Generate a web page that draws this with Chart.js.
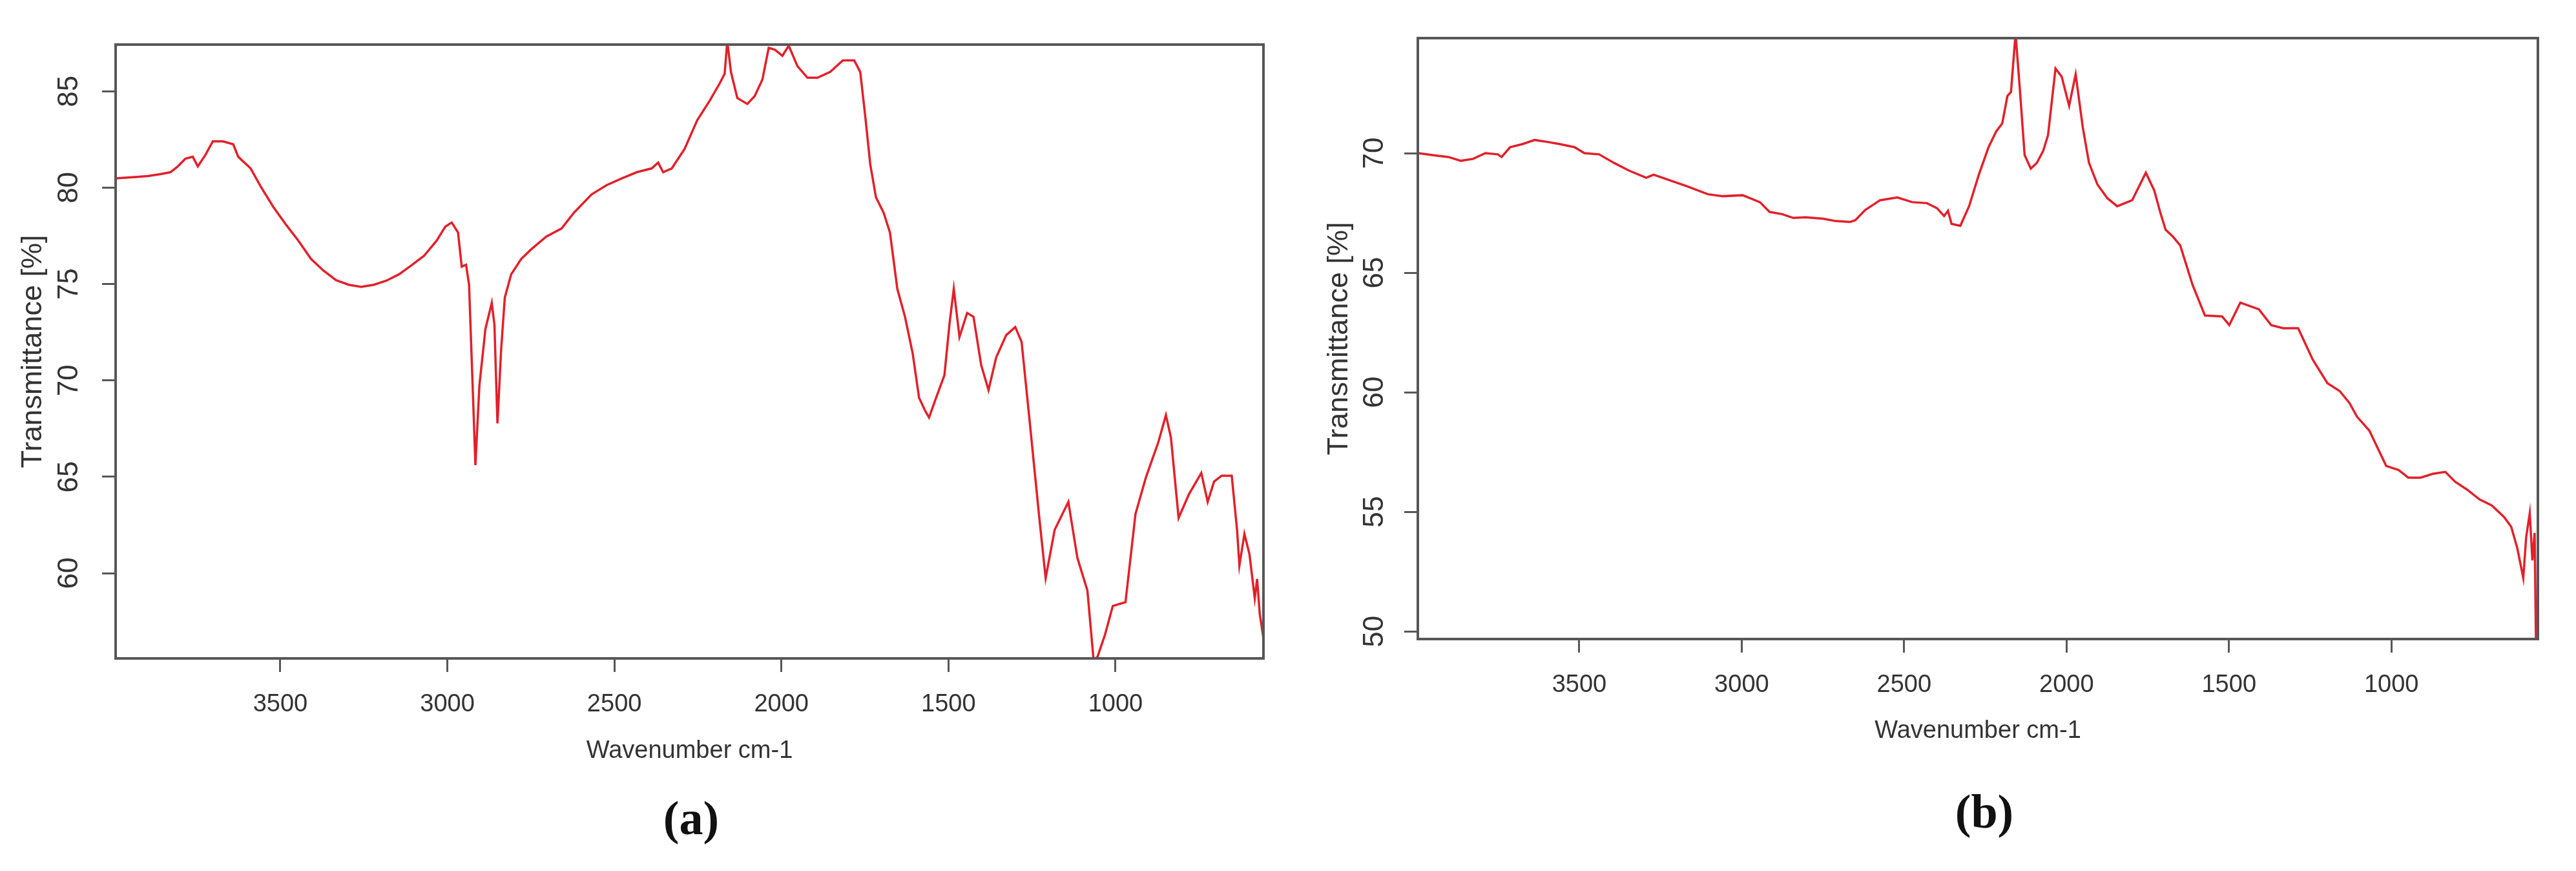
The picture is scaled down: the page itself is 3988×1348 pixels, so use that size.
<!DOCTYPE html>
<html lang="en">
<head>
<meta charset="UTF-8">
<title>FTIR spectra</title>
<script src="https://cdn.jsdelivr.net/npm/chart.js"></script>
<style>
  html, body { margin: 0; padding: 0; background: #fff; }
  body { width: 3988px; height: 1348px; position: relative; overflow: hidden; }
  .panel { position: absolute; top: 0; width: 1994px; height: 1348px; }
  .tag { position: absolute; transform: translate(-50%, -50%); font: bold 74px "Liberation Serif", "Times New Roman", serif; color: #111; }
</style>
</head>
<body>
<div class="panel" style="left:0"><canvas id="chartA" width="1994" height="1348"></canvas></div>
<div class="panel" style="left:1994px"><canvas id="chartB" width="1994" height="1348"></canvas></div>
<div class="tag" style="left:1070px; top:1266px">(a)</div>
<div class="tag" style="left:3072px; top:1256px">(b)</div>
<script>
// spectrum (a)
const waveA = [3993, 3935, 3897, 3859, 3829, 3807, 3784, 3762, 3747, 3724, 3702, 3672, 3641, 3626, 3589, 3559,
  3521, 3483, 3446, 3408, 3371, 3333, 3295, 3258, 3220, 3183, 3145, 3108, 3070, 3032, 3006, 2987,
  2968, 2957, 2944, 2935, 2923, 2916, 2904, 2886, 2867, 2859, 2850, 2839, 2828, 2809, 2779, 2749,
  2704, 2658, 2621, 2568, 2523, 2478, 2433, 2388, 2369, 2354, 2328, 2290, 2252, 2215, 2185, 2170,
  2162, 2151, 2132, 2102, 2080, 2057, 2038, 2019, 1997, 1978, 1952, 1922, 1892, 1854, 1816, 1782,
  1764, 1749, 1734, 1717, 1694, 1675, 1653, 1630, 1607, 1588, 1569, 1558, 1539, 1512, 1497, 1484,
  1467, 1444, 1425, 1402, 1380, 1357, 1327, 1300, 1281, 1258, 1228, 1209, 1182, 1141, 1114, 1084,
  1065, 1053, 1031, 1008, 970, 940, 909, 871, 849, 834, 811, 780, 743, 724, 705, 682,
  652, 636, 629, 614, 599, 583, 576, 568, 557]
const transA = [80.48, 80.55, 80.6, 80.7, 80.8, 81.1, 81.5, 81.6, 81.1, 81.7, 82.4, 82.4, 82.25, 81.6, 81.0, 80.07,
  79.0, 78.08, 77.25, 76.3, 75.7, 75.2, 74.96, 74.85, 74.96, 75.17, 75.5, 75.96, 76.46, 77.25, 77.98, 78.19,
  77.67, 75.9, 76.0, 74.96, 69.1, 65.6, 69.75, 72.67, 74.02, 72.88, 67.77, 71.6, 74.3, 75.5, 76.3, 76.8,
  77.46, 77.88, 78.7, 79.65, 80.13, 80.48, 80.8, 81.0, 81.3, 80.8, 81.0, 82.0, 83.5, 84.5, 85.4, 85.9,
  87.6, 86.0, 84.65, 84.34, 84.75, 85.6, 87.25, 87.15, 86.84, 87.36, 86.3, 85.7, 85.7, 86.0, 86.6, 86.6,
  86.0, 83.7, 81.2, 79.5, 78.7, 77.67, 74.75, 73.3, 71.4, 69.1, 68.4, 68.08, 69.0, 70.27, 72.9, 74.75,
  72.25, 73.5, 73.3, 70.8, 69.5, 71.2, 72.35, 72.77, 72.0, 68.08, 62.87, 59.75, 62.25, 63.7, 60.8, 59.1,
  55.4, 55.7, 56.83, 58.3, 58.5, 63.08, 64.96, 66.83, 68.2, 67.04, 62.87, 64.1, 65.2, 63.7, 64.75, 65.06,
  65.06, 62.25, 60.4, 62.04, 61.0, 58.7, 59.7, 57.87, 56.62]

// spectrum (b)
const waveB = [3996, 3941, 3903, 3865, 3827, 3789, 3751, 3739, 3713, 3675, 3637, 3598, 3560, 3515, 3484, 3439,
  3393, 3347, 3294, 3271, 3218, 3165, 3104, 3058, 2997, 2944, 2914, 2876, 2841, 2803, 2749, 2711,
  2666, 2650, 2620, 2574, 2521, 2475, 2430, 2399, 2377, 2365, 2354, 2327, 2300, 2270, 2240, 2217,
  2198, 2182, 2171, 2157, 2144, 2129, 2110, 2091, 2072, 2057, 2034, 2015, 1992, 1972, 1950, 1931,
  1905, 1874, 1844, 1798, 1756, 1730, 1710, 1695, 1672, 1650, 1612, 1574, 1521, 1499, 1465, 1408,
  1370, 1333, 1287, 1242, 1197, 1159, 1129, 1106, 1068, 1016, 978, 948, 910, 872, 834, 804,
  767, 729, 691, 653, 631, 612, 594, 585, 574, 566, 559, 555]
const transB = [70.0, 69.9, 69.84, 69.68, 69.76, 70.0, 69.95, 69.84, 70.25, 70.38, 70.55, 70.47, 70.38, 70.25, 70.0, 69.95,
  69.59, 69.27, 68.97, 69.1, 68.85, 68.6, 68.28, 68.2, 68.24, 67.95, 67.54, 67.45, 67.29, 67.32, 67.26, 67.16,
  67.12, 67.2, 67.62, 68.03, 68.15, 67.95, 67.91, 67.7, 67.37, 67.59, 67.04, 66.96, 67.78, 69.1, 70.25, 70.9,
  71.24, 72.39, 72.56, 75.0, 72.72, 69.92, 69.35, 69.6, 70.09, 70.75, 73.54, 73.2, 71.98, 73.3, 71.08, 69.6,
  68.69, 68.11, 67.78, 68.03, 69.18, 68.44, 67.45, 66.8, 66.5, 66.14, 64.49, 63.21, 63.17, 62.81, 63.75, 63.47,
  62.81, 62.68, 62.68, 61.36, 60.38, 60.05, 59.55, 58.98, 58.4, 56.92, 56.75, 56.43, 56.43, 56.59, 56.67, 56.26,
  55.93, 55.52, 55.27, 54.78, 54.37, 53.46, 52.23, 53.95, 54.94, 52.97, 54.12, 49.6]

const xTicks = [3500, 3000, 2500, 2000, 1500, 1000]
const yTicksA = [60, 65, 70, 75, 80, 85]
const yTicksB = [50, 55, 60, 65, 70]

const lineColor = 'rgb(226, 32, 42)'
const axisColor = '#575757'
const textColor = '#333'
const sans = '"Liberation Sans", Arial, sans-serif'

// box around the plot + y labels turned on their side, like base R graphics
const frame = {
  id: 'frame',
  afterDraw(chart, args, opts) {
    const {ctx, chartArea: a} = chart
    const y = chart.scales.y
    ctx.save()
    ctx.strokeStyle = axisColor
    ctx.lineWidth = 4
    ctx.strokeRect(a.left, a.top, a.right - a.left, a.bottom - a.top)
    ctx.fillStyle = textColor
    ctx.font = '44px ' + sans
    ctx.textAlign = 'center'
    ctx.textBaseline = 'middle'
    y.ticks.forEach(t => {
      ctx.save()
      ctx.translate(opts.labelX, y.getPixelForValue(t.value))
      ctx.rotate(-Math.PI / 2)
      ctx.fillText(String(t.value), 0, 0)
      ctx.restore()
    })
    ctx.restore()
  }
}

function makeChart(id, wave, trans, yTicks, box) {
  const points = wave.map((w, i) => ({x: w, y: trans[i]}))
  const tickGrid = {drawOnChartArea: false, drawTicks: true, tickLength: 21, tickWidth: 3, tickColor: axisColor}
  return new Chart(document.getElementById(id), {
    type: 'line',
    data: {
      datasets: [{
        data: points,
        borderColor: lineColor,
        borderWidth: 3.5,
        pointRadius: 0,
        tension: 0,
        fill: false
      }]
    },
    plugins: [frame],
    options: {
      responsive: false,
      animation: false,
      events: [],
      layout: {padding: box.padding},
      plugins: {
        legend: {display: false},
        tooltip: {enabled: false},
        frame: {labelX: box.labelX}
      },
      scales: {
        x: {
          type: 'linear',
          reverse: true,
          min: box.xMin,
          max: box.xMax,
          afterBuildTicks: s => { s.ticks = xTicks.map(v => ({value: v})) },
          afterFit: s => { s.height = 200 },
          border: {display: false},
          grid: tickGrid,
          ticks: {
            color: textColor,
            font: {size: 38, family: sans},
            padding: 28,
            maxRotation: 0,
            autoSkip: false,
            callback: v => String(v)
          },
          title: {
            display: true,
            text: 'Wavenumber cm-1',
            color: textColor,
            font: {size: 38, family: sans},
            padding: {top: 0, bottom: box.xTitleGap}
          }
        },
        y: {
          type: 'linear',
          min: box.yMin,
          max: box.yMax,
          afterBuildTicks: s => { s.ticks = yTicks.map(v => ({value: v})) },
          afterFit: s => { s.width = box.yWidth },
          border: {display: false},
          grid: tickGrid,
          ticks: {display: false},
          title: {
            display: true,
            text: 'Transmittance [%]',
            color: textColor,
            font: {size: 45, family: sans},
            padding: {top: box.yTitleGap, bottom: 0}
          }
        }
      }
    }
  })
}

makeChart('chartA', waveA, transA, yTicksA, {
  padding: {top: 69, right: 38, bottom: 129, left: 0},
  yWidth: 179, labelX: 108, yTitleGap: 25, xTitleGap: 34,
  xMin: 557, xMax: 3993, yMin: 55.58, yMax: 87.42
})

makeChart('chartB', waveB, transB, yTicksB, {
  padding: {top: 59, right: 59, bottom: 159, left: 0},
  yWidth: 201, labelX: 135, yTitleGap: 53, xTitleGap: 35,
  xMin: 549, xMax: 3997, yMin: 49.68, yMax: 74.81
})
</script>
</body>
</html>
